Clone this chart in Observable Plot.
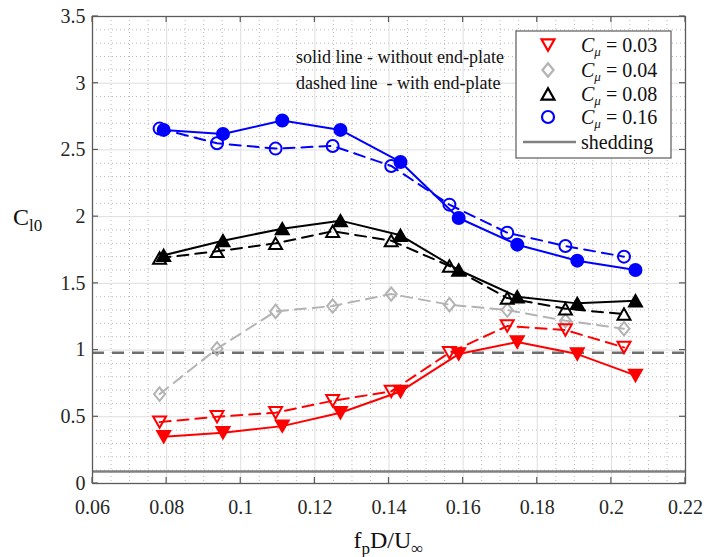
<!DOCTYPE html>
<html><head><meta charset="utf-8">
<script src="https://cdn.jsdelivr.net/npm/d3@7"></script>
<script src="https://cdn.jsdelivr.net/npm/@observablehq/plot@0.6"></script>
<style>body{margin:0;background:#fff}</style>
</head><body><div id="chart"></div>
<script>
// ---- data ----
const xWithout = [0.0792, 0.0952, 0.1112, 0.1269, 0.1431, 0.1588, 0.1746, 0.1908, 0.2065];
const xWith    = [0.0781, 0.0936, 0.1094, 0.1248, 0.1406, 0.1563, 0.1719, 0.1876, 0.2034];
const c016Without = [2.65, 2.62, 2.72, 2.65, 2.41, 1.99, 1.79, 1.67, 1.60];
const c016With    = [2.66, 2.55, 2.51, 2.53, 2.38, 2.09, 1.88, 1.78, 1.70];
const c008Without = [1.71, 1.82, 1.91, 1.97, 1.86, 1.60, 1.40, 1.35, 1.37];
const c008With    = [1.69, 1.74, 1.80, 1.89, 1.82, 1.63, 1.39, 1.31, 1.27];
const c004With    = [0.67, 1.01, 1.29, 1.33, 1.42, 1.34, 1.30, 1.22, 1.16];
const c003Without = [0.35, 0.38, 0.43, 0.53, 0.69, 0.97, 1.06, 0.97, 0.81];
const c003With    = [0.46, 0.50, 0.53, 0.62, 0.69, 0.98, 1.18, 1.15, 1.02];
const cmuLabels = ["0.03", "0.04", "0.08", "0.16"];
const sheddingLevel = [0.09];
const dashedLevel = [0.98];
const xTicks = [0.06, 0.08, 0.1, 0.12, 0.14, 0.16, 0.18, 0.2, 0.22];
const xTickLabels = ["0.06", "0.08", "0.1", "0.12", "0.14", "0.16", "0.18", "0.2", "0.22"];
const yTicks = [0, 0.5, 1, 1.5, 2, 2.5, 3, 3.5];
const yTickLabels = ["0", "0.5", "1", "1.5", "2", "2.5", "3", "3.5"];
const noteLines = ["solid line - without end-plate", "dashed line  - with end-plate"];

// ---- symbols ----
const triDown = {draw(ctx, size) { const r = Math.sqrt(size / Math.PI); const w = r * 1.08, h = r * 0.95;
  ctx.moveTo(-w, -h); ctx.lineTo(w, -h); ctx.lineTo(0, h); ctx.closePath(); }};
const triUp = {draw(ctx, size) { const r = Math.sqrt(size / Math.PI); const w = r * 1.08, h = r * 0.95;
  ctx.moveTo(0, -h); ctx.lineTo(w, h); ctx.lineTo(-w, h); ctx.closePath(); }};
const diam = {draw(ctx, size) { const r = Math.sqrt(size / Math.PI); const w = r * 0.92, h = r * 1.12;
  ctx.moveTo(0, -h); ctx.lineTo(w, 0); ctx.lineTo(0, h); ctx.lineTo(-w, 0); ctx.closePath(); }};
const circ = d3.symbolCircle;

const RED = "#ff0000", GRAY = "#b3b3b3", BLACK = "#000000", BLUE = "#0000ff";
const series = [
  {x: xWith, y: c004With, color: GRAY, dash: true, filled: false, symbol: diam},
  {x: xWith, y: c003With, color: RED, dash: true, filled: false, symbol: triDown},
  {x: xWithout, y: c003Without, color: RED, dash: false, filled: true, symbol: triDown},
  {x: xWith, y: c008With, color: BLACK, dash: true, filled: false, symbol: triUp},
  {x: xWithout, y: c008Without, color: BLACK, dash: false, filled: true, symbol: triUp},
  {x: xWith, y: c016With, color: BLUE, dash: true, filled: false, symbol: circ},
  {x: xWithout, y: c016Without, color: BLUE, dash: false, filled: true, symbol: circ}
];
const rows = s => s.x.map((x, i) => ({x, y: s.y[i]}));

const minorX = d3.range(0, 33).map(i => 0.06 + i * 0.005).filter((v, i) => i % 4 !== 0);
const minorY = d3.range(0, 36).map(i => i * 0.1).filter((v, i) => i % 5 !== 0);
const xLab = new Map(xTicks.map((t, i) => [t, xTickLabels[i]]));
const yLab = new Map(yTicks.map((t, i) => [t, yTickLabels[i]]));
const FONT = "Liberation Serif";

const marks = [
  Plot.gridX(minorX, {stroke: "#b8b8b8", strokeOpacity: 1, strokeDasharray: "1,3"}),
  Plot.gridY(minorY, {stroke: "#b8b8b8", strokeOpacity: 1, strokeDasharray: "1,3"}),
  Plot.gridX(xTicks, {stroke: "#dedede", strokeOpacity: 1}),
  Plot.gridY(yTicks, {stroke: "#dedede", strokeOpacity: 1}),
  Plot.ruleY(sheddingLevel, {stroke: "#808080", strokeWidth: 2.5}),
  Plot.ruleY(dashedLevel, {stroke: "#6e6e6e", strokeWidth: 2.5, strokeDasharray: "12,8"}),
];
for (const s of series) {
  marks.push(Plot.line(rows(s), {x: "x", y: "y", stroke: s.color, strokeWidth: 2, strokeDasharray: s.dash ? "11,7" : null}));
  marks.push(Plot.dot(rows(s), {x: "x", y: "y", symbol: s.symbol, r: 6, stroke: s.color,
    fill: s.filled ? s.color : "none", strokeWidth: 2}));
}
marks.push(
  Plot.frame({stroke: "#5a5a5a", strokeWidth: 1.3}),
  Plot.axisX(xTicks, {anchor: "bottom", tickSize: 0, tickPadding: 16, tickFormat: d => xLab.get(d), fontSize: 20, fill: "#262626", label: null}),
  Plot.axisY(yTicks, {anchor: "left", tickSize: 0, tickPadding: 7, tickFormat: d => yLab.get(d), fontSize: 20, fill: "#262626", label: null})
);

const chart = Plot.plot({
  width: 706, height: 557,
  marginLeft: 92, marginRight: 21, marginTop: 16, marginBottom: 74,
  x: {domain: [0.06, 0.22]},
  y: {domain: [0, 3.5]},
  style: {fontFamily: FONT, background: "#fff", color: "#262626"},
  marks
});
document.getElementById("chart").appendChild(chart);

// ---- inward ticks, labels, legend ----
const svg = d3.select(chart);
const X = v => chart.scale("x").apply(v), Y = v => chart.scale("y").apply(v);
const L = X(0.06), R = X(0.22), B = Y(0), T = Y(3.5);
const tk = svg.append("g").attr("stroke", "#5a5a5a").attr("stroke-width", 1.2);
for (const v of xTicks) {
  tk.append("line").attr("x1", X(v)).attr("x2", X(v)).attr("y1", B).attr("y2", B - 6);
  tk.append("line").attr("x1", X(v)).attr("x2", X(v)).attr("y1", T).attr("y2", T + 6);
}
for (const v of yTicks) {
  tk.append("line").attr("y1", Y(v)).attr("y2", Y(v)).attr("x1", L).attr("x2", L + 6);
  tk.append("line").attr("y1", Y(v)).attr("y2", Y(v)).attr("x1", R).attr("x2", R - 6);
}

const txt = (parent, x, y, size, anchor) => parent.append("text").attr("x", x).attr("y", y)
  .attr("font-family", FONT).attr("font-size", size).attr("fill", "#111").attr("text-anchor", anchor || "start");

// axis labels
const xl = txt(svg, (L + R) / 2, 548, 24, "middle");
xl.append("tspan").text("f");
xl.append("tspan").attr("dy", 6).attr("font-size", 17).text("p");
xl.append("tspan").attr("dy", -6).text("D/U");
xl.append("tspan").attr("dy", 6).attr("font-size", 17).text("∞");
const yl = txt(svg, 13, 225, 24);
yl.append("tspan").text("C");
yl.append("tspan").attr("dy", 6).attr("font-size", 17).text("l0");

// annotation
noteLines.forEach((t, i) => {
  txt(svg, 296, 63 + i * 26, 18).style("white-space", "pre").text(t);
});

// legend
const lg = svg.append("g");
lg.append("rect").attr("x", 516).attr("y", 31).attr("width", 155).attr("height", 127)
  .attr("fill", "#fff").attr("stroke", "#5a5a5a").attr("stroke-width", 1.2);
const legendItems = [
  {label: cmuLabels[0], color: RED, symbol: triDown},
  {label: cmuLabels[1], color: GRAY, symbol: diam},
  {label: cmuLabels[2], color: BLACK, symbol: triUp},
  {label: cmuLabels[3], color: BLUE, symbol: circ}
];
const rowY = [45, 70, 94, 117];
legendItems.forEach((it, i) => {
  lg.append("path").attr("transform", `translate(548,${rowY[i]})`)
    .attr("d", d3.symbol(it.symbol, Math.PI * 36)())
    .attr("fill", "none").attr("stroke", it.color).attr("stroke-width", 2.2);
  const t = txt(lg, 581, rowY[i] + 7, 20).style("white-space", "pre");
  t.append("tspan").attr("font-style", "italic").text("C");
  t.append("tspan").attr("font-style", "italic").attr("font-size", 13).attr("dy", 4).text("μ");
  t.append("tspan").attr("dy", -4).text(" = " + it.label);
});
lg.append("line").attr("x1", 523).attr("x2", 576).attr("y1", 142).attr("y2", 142)
  .attr("stroke", "#808080").attr("stroke-width", 2.5);
txt(lg, 581, 149, 20).text("shedding");
</script>
</body></html>
